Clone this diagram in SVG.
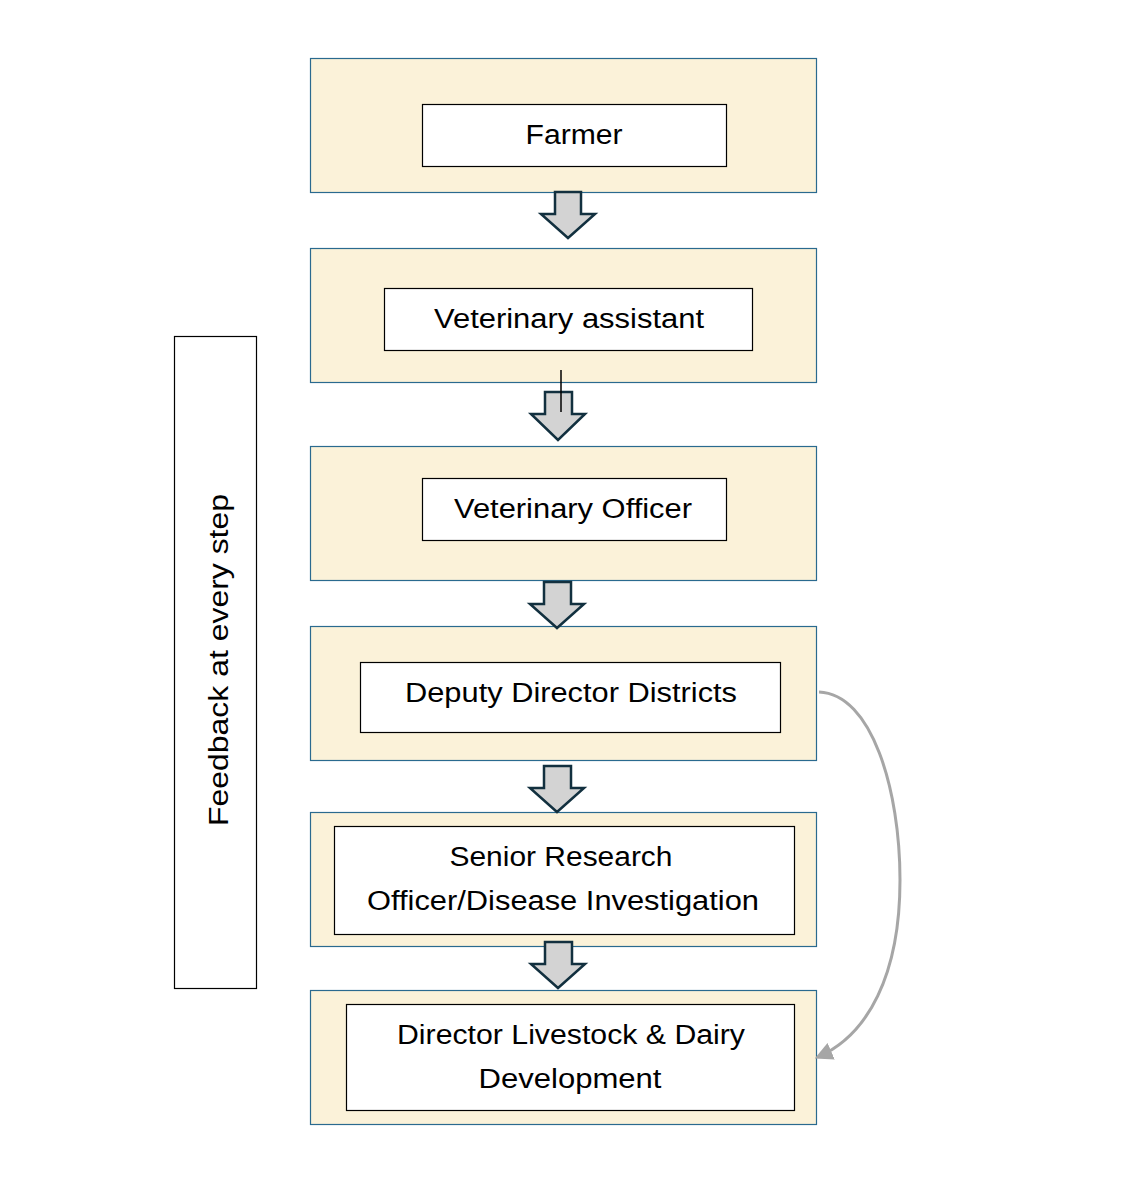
<svg xmlns="http://www.w3.org/2000/svg" width="1126" height="1202" viewBox="0 0 1126 1202">
<style>
.outer{fill:#fbf2d9;stroke:#2a6a8f;stroke-width:1.2}
.inner{fill:#ffffff;stroke:#000000;stroke-width:1.2}
.lbl{font-family:"Liberation Sans",Arial,sans-serif;font-size:27px;fill:#000;text-anchor:middle}
.blk{fill:#d3d3d3;stroke:#12303f;stroke-width:2.5;stroke-linejoin:miter}
</style>
<defs>
<marker id="ah" viewBox="0 0 10 10" refX="8" refY="5" markerWidth="6" markerHeight="6" orient="auto" markerUnits="strokeWidth">
<path d="M0,0 L10,5 L0,10 z" fill="#a6a6a6"/>
</marker>
</defs>
<rect width="1126" height="1202" fill="#ffffff"/>
<g id="feedback">
<rect x="174.5" y="336.5" width="82" height="652" fill="#fff" stroke="#000" stroke-width="1.2"/>
<text class="lbl" transform="translate(228,660) rotate(-90)" textLength="332" lengthAdjust="spacingAndGlyphs">Feedback at every step</text>
</g>
<g id="farmer">
<rect class="outer" x="310.5" y="58.5" width="506" height="134"/>
<rect class="inner" x="422.5" y="104.5" width="304" height="62"/>
<text class="lbl" x="574" y="144" textLength="97" lengthAdjust="spacingAndGlyphs">Farmer</text>
</g>
<g id="vet-assistant">
<rect class="outer" x="310.5" y="248.5" width="506" height="134"/>
<rect class="inner" x="384.5" y="288.5" width="368" height="62"/>
<text class="lbl" x="569" y="328" textLength="270" lengthAdjust="spacingAndGlyphs">Veterinary assistant</text>
</g>
<g id="vet-officer">
<rect class="outer" x="310.5" y="446.5" width="506" height="134"/>
<rect class="inner" x="422.5" y="478.5" width="304" height="62"/>
<text class="lbl" x="573" y="518" textLength="238" lengthAdjust="spacingAndGlyphs">Veterinary Officer</text>
</g>
<g id="deputy-director">
<rect class="outer" x="310.5" y="626.5" width="506" height="134"/>
<rect class="inner" x="360.5" y="662.5" width="420" height="70"/>
<text class="lbl" x="571" y="702" textLength="332" lengthAdjust="spacingAndGlyphs">Deputy Director Districts</text>
</g>
<g id="senior-research">
<rect class="outer" x="310.5" y="812.5" width="506" height="134"/>
<rect class="inner" x="334.5" y="826.5" width="460" height="108"/>
<text class="lbl" x="561" y="866" textLength="223" lengthAdjust="spacingAndGlyphs">Senior Research</text>
<text class="lbl" x="563" y="910" textLength="392" lengthAdjust="spacingAndGlyphs">Officer/Disease Investigation</text>
</g>
<g id="director">
<rect class="outer" x="310.5" y="990.5" width="506" height="134"/>
<rect class="inner" x="346.5" y="1004.5" width="448" height="106"/>
<text class="lbl" x="571" y="1044" textLength="348" lengthAdjust="spacingAndGlyphs">Director Livestock &amp; Dairy</text>
<text class="lbl" x="570" y="1088" textLength="183" lengthAdjust="spacingAndGlyphs">Development</text>
</g>
<g id="connectors">
<path class="blk" d="M555,192 L581,192 L581,214 L595,214 L568,238 L541,214 L555,214 Z"/>
<path class="blk" d="M545,392 L572,392 L572,414 L585,414 L558,440 L531,414 L545,414 Z"/>
<line x1="561" y1="370" x2="561" y2="412" stroke="#000" stroke-width="1.5"/>
<path class="blk" d="M544,582 L571,582 L571,604 L584,604 L557,628 L530,604 L544,604 Z"/>
<path class="blk" d="M544,766 L571,766 L571,788 L584,788 L557,812 L530,788 L544,788 Z"/>
<path class="blk" d="M545,942 L572,942 L572,964 L585,964 L558,988 L531,964 L545,964 Z"/>
<path d="M819,692 C872,694 900,790 900,880 C900,975 868,1035 818,1057" fill="none" stroke="#a6a6a6" stroke-width="3" marker-end="url(#ah)"/>
</g>
</svg>
